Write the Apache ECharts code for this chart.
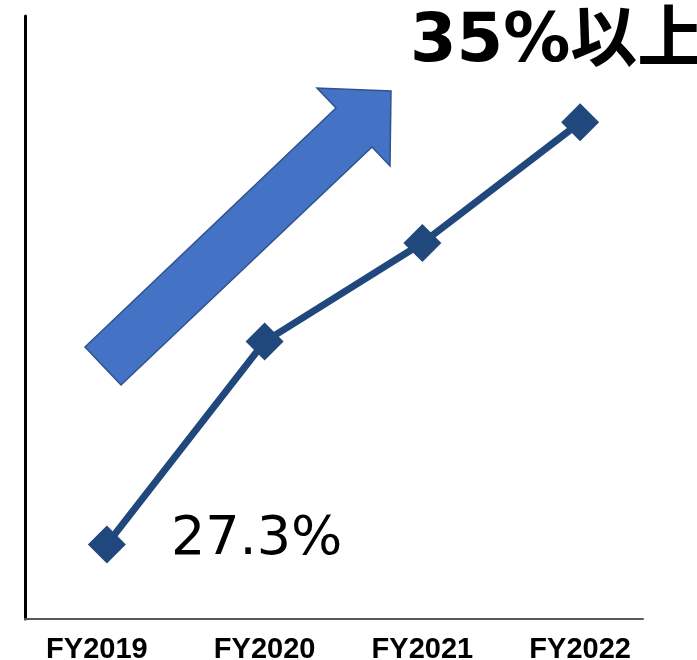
<!DOCTYPE html>
<html>
<head>
<meta charset="utf-8">
<script src="https://cdn.jsdelivr.net/npm/echarts@6/dist/echarts.min.js"></script>
<style>html,body{margin:0;padding:0;background:#fff;}#c{width:697px;height:660px;}</style>
</head>
<body>
<div id="c"></div>
<script>
var categories = ['FY2019', 'FY2020', 'FY2021', 'FY2022'];
var values = [27.3, 31.0, 32.8, 35.0];
var targetText = '35%以上';

var chart = echarts.init(document.getElementById('c'));
var lineColor = '#21487C';
var seriesData = values.map(function (v, i) {
  if (i === 0) {
    return { value: v, label: { show: true, position: 'right', distance: 45, offset: [0, -4],
      formatter: '{c}%', color: '#000', fontSize: 54, fontFamily: 'DejaVu Sans' } };
  }
  return v;
});
var catData = categories.map(function (c, i) {
  if (i === 0) {
    return { value: c, textStyle: { padding: [0, 20, 0, 0] } };
  }
  return c;
});
chart.setOption({
  animation: false,
  backgroundColor: '#fff',
  grid: [
    { left: 25, right: 54, top: 16, bottom: 41, outerBoundsMode: 'none', containLabel: false },
    { left: 28, right: 38, top: 16, bottom: 41, outerBoundsMode: 'none', containLabel: false }
  ],
  xAxis: [
    { gridIndex: 0, type: 'category', data: categories,
      axisLine: { show: true, lineStyle: { color: '#595959', width: 2 } },
      axisTick: { show: false }, axisLabel: { show: false }, splitLine: { show: false } },
    { gridIndex: 1, type: 'category', data: catData,
      axisLine: { show: false }, axisTick: { show: false },
      axisLabel: { show: true, margin: 16, color: '#000', fontSize: 29, fontWeight: 'bold',
        fontFamily: 'Liberation Sans, Arial, sans-serif' } }
  ],
  yAxis: [
    { gridIndex: 0, type: 'value', min: 0, max: 1,
      axisLine: { show: true, lineStyle: { color: '#000', width: 3 } },
      axisTick: { show: false }, axisLabel: { show: false }, splitLine: { show: false } },
    { gridIndex: 1, type: 'value', min: 25.94, max: 36.94,
      axisLine: { show: false }, axisTick: { show: false }, axisLabel: { show: false }, splitLine: { show: false } }
  ],
  graphic: [
    { type: 'polygon', z: 1,
      shape: { points: [[85, 347], [121, 385], [372, 147], [390, 166], [391, 91], [317, 88], [336, 108]] },
      style: { fill: '#4472C4', stroke: '#2F528F', lineWidth: 1.5 } },
    { type: 'text', z: 10, x: 410, y: 44,
      style: { text: targetText, fill: '#000', verticalAlign: 'middle', align: 'left',
        font: 'bold 67px "DejaVu Sans", "Noto Sans CJK JP", sans-serif' } }
  ],
  series: [
    { type: 'line', xAxisIndex: 1, yAxisIndex: 1, data: seriesData,
      symbol: 'diamond', symbolSize: 38, z: 5,
      lineStyle: { color: lineColor, width: 7 },
      itemStyle: { color: lineColor } }
  ]
});
</script>
</body>
</html>
